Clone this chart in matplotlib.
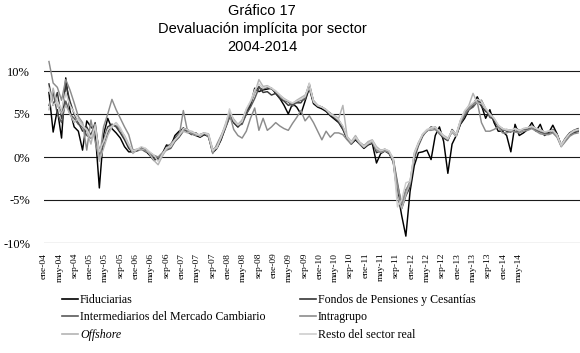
import matplotlib
matplotlib.use("Agg")
import matplotlib.pyplot as plt
import numpy as np

# ---------------- data (monthly, % ) ----------------
tick_labels = ["ene-04", "may-04", "sep-04", "ene-05", "may-05", "sep-05", "ene-06", "may-06",
               "sep-06", "ene-07", "may-07", "sep-07", "ene-08", "may-08", "sep-08", "ene-09",
               "may-09", "sep-09", "ene-10", "may-10", "sep-10", "ene-11", "may-11", "sep-11",
               "ene-12", "may-12", "sep-12", "ene-13", "may-13", "sep-13", "ene-14", "may-14"]

fiduciarias = [7.5,2.9,5.5,2.2,9.2,5.4,3.5,3.0,0.8,4.2,3.5,3.0,-3.6,2.6,4.5,3.3,2.8,2.2,1.2,0.6,
               0.6,0.8,1.0,0.7,0.2,-0.4,-0.1,0.4,1.4,1.2,2.5,3.0,3.3,3.2,2.7,2.5,2.3,2.6,2.4,0.5,
               1.0,2.0,3.4,4.7,4.0,3.5,4.0,5.0,6.0,8.0,7.6,7.8,7.9,8.0,7.4,6.8,6.0,5.0,6.2,5.8,
               5.0,6.5,8.0,6.2,5.8,5.6,5.3,4.8,4.4,4.0,3.2,2.1,1.5,2.0,1.5,1.0,1.4,1.6,-0.7,0.4,
               0.7,0.4,-0.5,-4.0,-6.8,-9.2,-4.0,-1.0,0.5,0.6,0.8,-0.3,2.5,3.5,1.8,-1.9,1.5,2.5,3.8,4.5,
               5.5,6.0,7.0,6.0,4.5,5.5,4.0,3.0,3.0,2.5,0.6,3.8,2.5,2.8,3.2,4.0,3.0,3.8,2.5,2.8,
               3.7,2.7,1.3,2.0,2.6,2.8,3.0]

fondos = [8.5,6.0,7.5,4.5,8.5,6.5,5.0,4.0,3.0,3.5,2.5,4.0,0.3,2.0,3.5,3.8,3.5,2.8,2.0,1.0,
          0.5,0.8,1.1,0.9,0.3,-0.2,-0.3,0.2,1.2,1.5,2.2,2.7,3.4,2.9,2.6,2.8,2.4,2.6,2.6,0.6,
          1.3,2.3,3.6,5.0,4.0,3.5,4.2,5.4,6.2,7.5,8.2,7.5,7.6,7.2,7.4,6.8,6.5,6.0,6.2,6.3,
          6.3,7.0,8.5,6.5,6.0,5.8,5.4,5.1,4.5,4.3,3.5,2.3,1.7,2.2,1.7,1.3,1.6,1.9,0.5,0.7,
          0.9,0.5,-0.6,-4.5,-6.0,-4.5,-3.5,0.3,1.5,2.6,3.0,3.5,3.3,2.7,2.2,1.9,3.2,2.6,4.2,5.2,
          5.8,6.2,6.6,5.9,5.3,5.0,4.2,3.6,3.3,3.0,2.9,3.4,3.1,3.2,3.4,3.6,3.3,3.1,2.9,2.9,
          3.2,2.6,1.4,2.2,2.8,3.1,3.3]

intermediarios = [6.0,7.5,5.0,4.0,6.5,5.0,4.5,3.8,3.5,2.5,2.2,3.2,0.8,1.2,2.8,3.8,3.6,3.2,2.3,1.3,
                  0.6,0.7,0.9,0.6,0.5,0.1,-0.1,0.4,0.8,1.0,1.8,2.3,3.0,3.1,2.9,2.5,2.6,2.8,2.3,0.9,
                  1.1,2.1,3.3,4.6,4.3,3.7,3.8,5.0,5.8,6.8,8.0,7.9,8.1,7.9,7.6,7.1,6.6,6.4,5.9,6.4,
                  6.6,6.7,8.3,6.4,5.9,5.8,5.5,4.9,4.7,4.1,3.3,2.2,1.6,2.4,1.6,1.2,1.7,1.8,0.9,0.6,
                  0.8,0.6,-0.2,-3.0,-5.7,-3.8,-3.2,-0.2,1.3,2.4,3.1,3.3,3.5,2.9,2.3,2.1,2.9,2.4,3.9,4.8,
                  5.5,5.8,6.4,6.6,5.6,4.6,4.4,3.5,3.1,3.2,3.1,3.0,2.9,3.3,3.2,3.4,3.1,2.9,2.7,2.7,
                  2.9,2.4,1.3,1.9,2.5,2.9,3.0]

intragrupo = [11.1,8.6,8.1,6.6,9.0,7.8,6.3,4.7,4.0,0.8,4.3,1.8,-0.3,3.5,5.0,6.7,5.5,4.5,3.5,2.6,
              0.8,0.9,1.0,0.7,0.5,0.2,0.0,0.5,0.9,1.2,1.9,2.4,5.4,3.0,2.7,2.5,2.6,2.8,2.4,0.4,
              1.5,2.5,3.5,5.0,3.2,2.5,2.2,3.0,4.5,5.7,3.1,4.5,3.1,3.5,4.0,3.6,3.3,3.1,3.9,4.6,
              5.4,4.2,4.8,4.0,3.0,2.0,3.0,2.3,2.8,2.8,2.6,2.0,1.5,2.2,1.5,1.1,1.5,1.7,0.8,0.5,
              0.7,0.5,-0.4,-3.3,-5.4,-3.9,-2.8,0.2,1.6,2.6,3.1,3.1,3.2,2.7,2.4,2.0,3.1,2.6,4.1,5.1,
              5.6,6.1,6.4,4.0,3.0,3.0,3.2,3.5,2.8,2.8,3.0,2.9,2.8,3.0,3.1,3.3,3.0,2.7,2.6,2.6,
              2.8,2.3,1.2,1.8,2.4,2.7,2.8]

offshore = [5.5,8.0,6.0,5.0,6.0,5.0,4.0,4.5,3.8,3.0,1.5,3.8,-0.5,1.0,2.5,3.5,4.0,3.2,2.5,1.5,
            0.4,0.9,0.8,1.0,0.3,-0.4,-0.9,0.1,0.9,1.5,2.0,2.6,3.0,2.8,3.0,2.7,2.4,2.8,2.7,0.9,
            1.0,2.4,3.8,5.3,4.4,3.8,4.3,5.5,6.4,7.4,9.0,8.2,8.3,8.0,7.6,7.2,6.8,6.5,6.2,6.6,
            6.9,7.2,8.0,6.6,6.0,5.8,5.5,5.1,4.8,4.5,6.0,2.4,1.8,2.5,1.7,1.3,1.8,2.0,1.2,0.8,
            0.9,0.7,-0.4,-4.5,-6.0,-4.4,-3.0,0.5,1.7,2.6,3.1,3.3,3.4,3.0,2.5,2.2,2.9,2.4,4.2,5.3,
            6.0,7.4,6.3,6.2,5.6,5.0,4.5,3.7,3.3,3.1,3.1,3.3,3.0,3.3,3.4,3.5,3.3,3.2,2.9,3.0,
            3.1,2.6,1.2,2.1,2.7,3.1,3.2]

resto = [8.0,6.0,6.5,5.5,7.5,6.0,5.2,4.2,3.6,3.2,2.3,3.5,0.6,1.8,3.2,3.6,4.0,3.4,2.4,1.4,
         0.7,0.9,1.2,1.0,0.6,0.2,-0.5,0.3,1.1,1.2,2.0,2.5,3.3,3.2,2.9,2.7,2.6,2.8,2.6,0.7,
         1.2,2.3,3.6,5.6,4.2,3.7,4.1,5.6,6.5,7.8,8.5,8.0,8.2,8.0,7.7,7.2,6.7,6.5,6.3,6.5,
         6.7,7.0,8.6,6.4,6.0,5.8,5.5,5.0,4.7,4.3,3.6,2.3,1.7,2.3,1.7,1.2,1.6,1.9,1.0,0.7,
         0.9,0.7,-0.2,-5.8,-5.0,-3.0,-2.8,0.4,1.6,2.7,3.2,3.4,3.5,3.0,2.4,2.1,3.1,2.7,4.3,5.4,
         5.9,6.3,6.7,6.5,5.7,5.0,4.5,3.7,3.3,3.2,3.1,3.3,3.1,3.3,3.4,3.6,3.3,3.1,2.9,3.0,
         3.1,2.5,1.4,2.1,2.7,3.0,3.2]

series_names = ["Fiduciarias", "Fondos de Pensiones y Cesantías",
                "Intermediarios del Mercado Cambiario", "Intragrupo",
                "Offshore", "Resto del sector real"]
series_values = [fiduciarias, fondos, intermediarios, intragrupo, offshore, resto]
series_colors = ["#000000", "#363636", "#5a5a5a", "#8c8c8c", "#b4b4b4", "#cecece"]

# ---------------- figure ----------------
W, H = 580, 353
fig = plt.figure(figsize=(W / 100, H / 100), dpi=100)
fig.patch.set_facecolor("white")

ax = fig.add_axes([44 / W, 1 - 243 / H, 536 / W, (243 - 53.8) / H])
n = len(fiduciarias)
x = np.arange(n)

handles = {}
for k in range(6):  # later series drawn on top, as in the original
    ln, = ax.plot(x, series_values[k], color=series_colors[k], lw=1.05,
                  clip_on=False, zorder=3 + k * 0.1)
    handles[k] = ln

ax.set_ylim(-10, 12)
ax.set_xlim(-0.24, n - 1 + 0.47)
yt = [-10, -5, 0, 5, 10]
ax.set_yticks(yt)
ax.set_yticklabels([f"{v}%" for v in yt], fontfamily="Liberation Serif", fontsize=9)
for v in yt:
    ax.axhline(v, color="#1a1a1a", lw=0.8, zorder=1)
ax.tick_params(axis="y", length=0, pad=10)

# category tick labels (spacing as in the original chart)
tick_step, tick_off = 3.645, -1.18
xt = [tick_off + j * tick_step for j in range(len(tick_labels))]
ax.set_xticks(xt)
ax.set_xticklabels(tick_labels, rotation=90, fontfamily="Liberation Serif", fontsize=6.8,
                   va="top", ha="center")
ax.tick_params(axis="x", length=0, pad=7)

for s in ax.spines.values():
    s.set_visible(False)
ax.set_facecolor("none")

# title
fig.text(262 / W, 1 - 11 / H, "Gráfico 17", ha="center", va="center",
         fontfamily="Liberation Sans", fontsize=10.5)
fig.text(262 / W, 1 - 29 / H, "Devaluación implícita por sector", ha="center", va="center",
         fontfamily="Liberation Sans", fontsize=10.5)
fig.text(262 / W, 1 - 47 / H, "2004-2014", ha="center", va="center",
         fontfamily="Liberation Sans", fontsize=10.5)

# legend (column-major: left column first)
order = [0, 2, 4, 1, 3, 5]
leg = fig.legend([handles[k] for k in order], [series_names[k] for k in order],
                 ncol=2, loc="upper left", bbox_to_anchor=(62 / W, 1 - 294 / H),
                 frameon=False, borderpad=0, borderaxespad=0, handlelength=1.35,
                 handletextpad=0.15, columnspacing=2.9, labelspacing=0.45,
                 prop={"family": "Liberation Serif", "size": 8.6})
for t in leg.get_texts():
    if t.get_text() == "Offshore":
        t.set_fontstyle("italic")
for lh in leg.get_lines():
    lh.set_linewidth(1.2)

fig.savefig("out.png", dpi=100, facecolor="white")
